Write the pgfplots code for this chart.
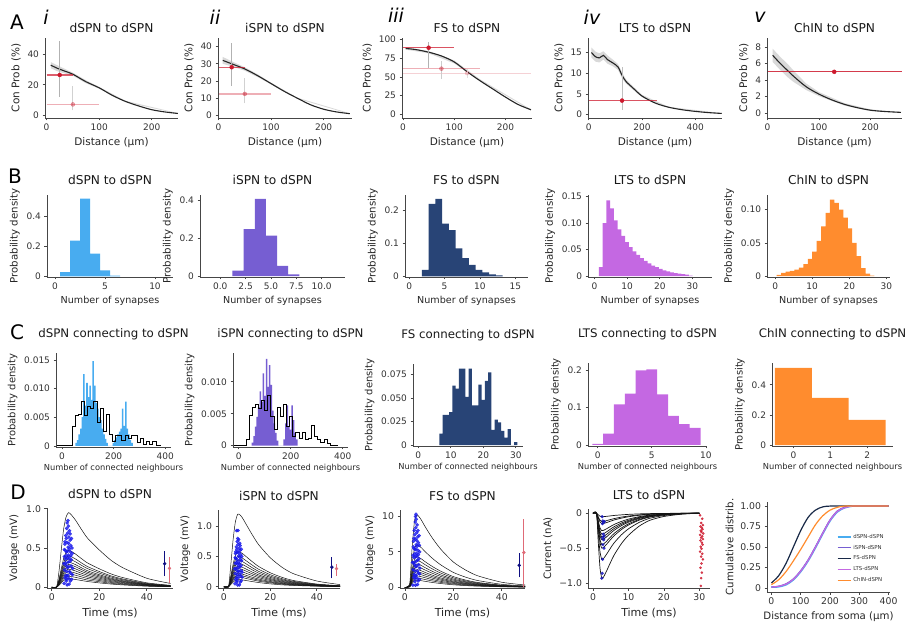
\documentclass[border=0pt]{standalone}
\usepackage{fontspec}
\setmainfont{DejaVu Sans}
\usepackage{pgfplots}
\usepackage{pgfplotstable}
\pgfplotsset{compat=1.18}

\definecolor{cdspn}{RGB}{72,172,240}
\definecolor{cispn}{RGB}{118,94,210}
\definecolor{cfs}{RGB}{40,68,118}
\definecolor{clts}{RGB}{196,104,226}
\definecolor{cchin}{RGB}{255,140,46}
\definecolor{cred}{RGB}{205,25,45}
\definecolor{spine}{RGB}{70,70,70}
\definecolor{pspcol}{RGB}{20,20,20}
\definecolor{cblue}{RGB}{25,25,235}

\pgfplotsset{
  pan/.style={scale only axis, anchor=south west,
    axis lines=left, axis line style={-, line width=0.9pt, draw=spine},
    every outer x axis line/.append style={-}, every outer y axis line/.append style={-},
    tick align=outside, major tick length=2.5pt,
    tick style={draw=spine, line width=0.7pt},
    every tick label/.append style={font=\fontsize{9}{10}\selectfont, text=black!80},
    /pgf/number format/assume math mode=true, scaled ticks=false,
    every axis title shift=0pt,
    every axis title/.style={at={(0.5,1)}, anchor=base, font=\fontsize{12.2}{13}\selectfont, text=black!90},
    every axis x label/.append style={font=\fontsize{10.5}{11}\selectfont, text=black!85},
    every axis y label/.append style={font=\fontsize{10.5}{11}\selectfont, text=black!85}},
  rowA/.style={title style={yshift=5pt}},
  rowB/.style={title style={yshift=10.5pt}, xlabel style={font=\fontsize{9.6}{10}\selectfont}, ylabel style={font=\fontsize{10.2}{11}\selectfont}},
  rowC/.style={title style={font=\fontsize{11.8}{13}\selectfont},
    xlabel style={font=\fontsize{8.3}{9}\selectfont, yshift=3pt}, ylabel style={font=\fontsize{10}{11}\selectfont}},
  rowD/.style={title style={yshift=9.5pt}, every tick label/.append style={font=\fontsize{9.3}{10}\selectfont},
    xlabel style={font=\fontsize{11}{12}\selectfont}, ylabel style={font=\fontsize{10.2}{11}\selectfont}},
  stepbar/.style={const plot, draw=none},
  pspline/.style={pspcol, line width=0.5pt, smooth, tension=0.4},
  band/.style={draw=none, fill=black, fill opacity=0.15},
  curve/.style={black!85, line width=1.1pt, smooth},
  dot/.style={only marks, mark=*, mark size=2pt},
  scat/.style={only marks, mark=*, mark size=1.6pt, cblue, fill opacity=0.8, draw opacity=0.8},
}

% PSP traces, panel D
\pgfplotstableread{
t a b c d e f g h i j k l
0 0 0 0 0 0 0 0 0 0 0 0 0
2 0 0 0 0 0 0 0 0 0 0 0 0
3 .19 .094 .08 .072 .064 .058 .052 .046 .04 .034 .028 .022
4 .475 .235 .2 .18 .16 .145 .13 .115 .1 .085 .07 .055
5 .741 .367 .312 .281 .25 .226 .203 .179 .156 .133 .109 .086
6 .893 .442 .376 .338 .301 .273 .244 .216 .188 .16 .132 .103
7 .95 .47 .4 .36 .32 .29 .26 .23 .2 .17 .14 .11
8 .931 .461 .392 .353 .314 .284 .255 .225 .196 .167 .137 .108
10 .855 .423 .36 .324 .288 .261 .234 .207 .18 .153 .126 .099
12 .76 .376 .32 .288 .256 .232 .208 .184 .16 .136 .112 .088
15 .627 .31 .264 .238 .211 .191 .172 .152 .132 .112 .092 .073
20 .475 .235 .2 .18 .16 .145 .13 .115 .1 .085 .07 .055
25 .342 .169 .144 .13 .115 .104 .094 .083 .072 .061 .05 .04
30 .247 .122 .104 .094 .083 .075 .068 .06 .052 .044 .036 .029
40 .114 .056 .048 .043 .038 .035 .031 .028 .024 .02 .017 .013
50 .048 .024 .02 .018 .016 .015 .013 .012 .01 .009 .007 .006
}\dAtab
\pgfplotstableread{
t a b c d e f g h i j k l
0 0 0 0 0 0 0 0 0 0 0 0 0
2 0 0 0 0 0 0 0 0 0 0 0 0
3 .36 .174 .15 .132 .117 .102 .09 .078 .066 .057 .048 .036
4 .78 .377 .325 .286 .254 .221 .195 .169 .143 .124 .104 .078
5 1.08 .522 .45 .396 .351 .306 .27 .234 .198 .171 .144 .108
6 1.2 .58 .5 .44 .39 .34 .3 .26 .22 .19 .16 .12
7 1.188 .574 .495 .436 .386 .337 .297 .257 .218 .188 .158 .119
8 1.14 .551 .475 .418 .371 .323 .285 .247 .209 .181 .152 .114
10 1.008 .487 .42 .37 .328 .286 .252 .218 .185 .16 .134 .101
12 .876 .423 .365 .321 .285 .248 .219 .19 .161 .139 .117 .088
15 .696 .336 .29 .255 .226 .197 .174 .151 .128 .11 .093 .07
20 .48 .232 .2 .176 .156 .136 .12 .104 .088 .076 .064 .048
25 .324 .157 .135 .119 .105 .092 .081 .07 .059 .051 .043 .032
30 .216 .104 .09 .079 .07 .061 .054 .047 .04 .034 .029 .022
40 .096 .046 .04 .035 .031 .027 .024 .021 .018 .015 .013 .01
50 .036 .017 .015 .013 .012 .01 .009 .008 .007 .006 .005 .004
}\dBtab
\pgfplotstableread{
t a b c d e f g h i j k l
0 0 0 0 0 0 0 0 0 0 0 0 0
2 .51 .3 .22 .19 .17 .15 .13 .11 .1 .08 .07 .05
3 5.61 3.3 2.37 2.09 1.82 1.6 1.38 1.21 1.05 .88 .72 .55
4 9.38 5.52 3.96 3.5 3.04 2.67 2.3 2.02 1.75 1.47 1.2 .92
5 10.2 6 4.3 3.8 3.3 2.9 2.5 2.2 1.9 1.6 1.3 1
6 9.89 5.82 4.17 3.69 3.2 2.81 2.43 2.13 1.84 1.55 1.26 .97
7 9.38 5.52 3.96 3.5 3.04 2.67 2.3 2.02 1.75 1.47 1.2 .92
8 8.77 5.16 3.7 3.27 2.84 2.49 2.15 1.89 1.63 1.38 1.12 .86
10 7.65 4.5 3.23 2.85 2.48 2.18 1.88 1.65 1.43 1.2 .98 .75
12 6.63 3.9 2.8 2.47 2.15 1.89 1.63 1.43 1.24 1.04 .85 .65
15 5.3 3.12 2.24 1.98 1.72 1.51 1.3 1.14 .99 .83 .68 .52
20 3.57 2.1 1.51 1.33 1.16 1.02 .88 .77 .67 .56 .46 .35
25 2.45 1.44 1.03 .91 .79 .7 .6 .53 .46 .38 .31 .24
30 1.63 .96 .69 .61 .53 .46 .4 .35 .3 .26 .21 .16
40 .71 .42 .3 .27 .23 .2 .18 .15 .13 .11 .09 .07
50 .31 .18 .13 .11 .1 .09 .08 .07 .06 .05 .04 .03
}\dCtab
\pgfplotstableread{
t a b c d e f g h i j k
0 0 0 0 0 0 0 0 0 0 0 0
1 0 0 0 0 0 0 0 0 0 0 0
1.5 -.419 -.297 -.225 -.203 -.171 -.153 -.135 -.113 -.068 -.054 -.023
2 -.791 -.561 -.425 -.383 -.323 -.289 -.255 -.213 -.128 -.102 -.043
2.5 -.93 -.66 -.5 -.45 -.38 -.34 -.3 -.25 -.15 -.12 -.05
3 -.911 -.647 -.49 -.441 -.372 -.333 -.294 -.245 -.147 -.118 -.049
4 -.809 -.574 -.435 -.392 -.331 -.296 -.261 -.218 -.131 -.104 -.044
5 -.698 -.495 -.375 -.338 -.285 -.255 -.225 -.188 -.113 -.09 -.038
6 -.595 -.422 -.32 -.288 -.243 -.218 -.192 -.16 -.096 -.077 -.032
8 -.437 -.31 -.235 -.212 -.179 -.16 -.141 -.118 -.071 -.056 -.024
10 -.316 -.224 -.17 -.153 -.129 -.116 -.102 -.085 -.051 -.041 -.017
13 -.186 -.132 -.1 -.09 -.076 -.068 -.06 -.05 -.03 -.024 -.01
16 -.102 -.073 -.055 -.05 -.042 -.037 -.033 -.028 -.017 -.013 -.006
20 -.047 -.033 -.025 -.023 -.019 -.017 -.015 -.013 -.008 -.006 -.003
25 -.014 -.01 -.008 -.007 -.006 -.005 -.005 -.004 -.002 -.002 -.001
30 0 0 0 0 0 0 0 0 0 0 0
}\dDtab

\begin{document}
\begin{tikzpicture}
\path[use as bounding box] (0pt,0pt) rectangle (917pt,623pt);

%%%%%%%%%%%%%%%% row A
\begin{axis}[pan, rowA, at={(45pt,505pt)}, width=133pt, height=80pt,
  xmin=-3, xmax=250, ymin=-2, ymax=51, xtick={0,100,200}, ytick={0,20,40},
  title={dSPN to dSPN}, xlabel={Distance (μm)}, ylabel={Con Prob (\%)}]
\addplot[band] coordinates {(8,35)(20,33)(35,30.5)(50,28)(75,23)(100,18.6)(150,9.4)(250,1.2)(250,0.8)(150,8.6)(100,17.4)(75,21)(50,26)(35,27.5)(20,29)(8,31)};
\addplot[curve] coordinates {(8,33)(20,31)(35,29)(50,27)(75,22)(100,18)(125,13)(150,9)(175,6)(200,3.5)(225,2)(250,1)};
\addplot[black!30, line width=0.8pt] coordinates {(25,12)(25,49)};
\addplot[cred, opacity=0.7, line width=1.3pt] coordinates {(0,26.5)(50,26.5)};
\addplot[dot, cred] coordinates {(25,26.5)};
\addplot[black!18, line width=0.8pt] coordinates {(50,3)(50,19)};
\addplot[cred, opacity=0.35, line width=1.3pt] coordinates {(0,7)(100,7)};
\addplot[dot, cred, opacity=0.4] coordinates {(50,7)};
\end{axis}

\begin{axis}[pan, rowA, at={(218pt,505pt)}, width=134pt, height=80pt,
  xmin=-1, xmax=254, ymin=-1.5, ymax=45, xtick={0,100,200}, ytick={0,10,20,30,40},
  title={iSPN to dSPN}, xlabel={Distance (μm)}, ylabel={Con Prob (\%)}]
\addplot[band] coordinates {(8,34)(25,31.5)(50,28)(75,23.8)(100,19)(150,10.3)(250,1.2)(250,0.8)(150,9.7)(100,18)(75,22.2)(50,26)(25,28.5)(8,30)};
\addplot[curve] coordinates {(8,32)(25,30)(50,27)(75,23)(100,18.5)(125,14)(150,10)(175,6.2)(200,3.6)(225,2)(250,1)};
\addplot[black!30, line width=0.8pt] coordinates {(25,17)(25,42)};
\addplot[cred, opacity=0.7, line width=1.3pt] coordinates {(0,28)(50,28)};
\addplot[dot, cred] coordinates {(25,28)};
\addplot[black!18, line width=0.8pt] coordinates {(50,7)(50,22)};
\addplot[cred, opacity=0.35, line width=1.3pt] coordinates {(0,12.5)(100,12.5)};
\addplot[dot, cred, opacity=0.4] coordinates {(50,12.5)};
\end{axis}

\begin{axis}[pan, rowA, at={(402pt,505pt)}, width=130pt, height=80pt,
  xmin=-2, xmax=252, ymin=-5, ymax=102, xtick={0,100,200}, ytick={0,25,50,75,100},
  title={FS to dSPN}, xlabel={Distance (μm)}, ylabel={Con Prob (\%)}]
\addplot[band] coordinates {(5,89.5)(50,84.5)(100,72)(150,47)(250,6.5)(250,5.5)(150,45)(100,68)(50,81.5)(5,86.5)};
\addplot[curve] coordinates {(5,88)(25,86.5)(50,83)(75,78)(100,70)(125,57)(150,45)(175,34)(200,23)(225,13)(250,6)};
\addplot[cred, opacity=0.2, line width=1.1pt] coordinates {(0,55)(250,55)};
\addplot[black!12, line width=0.8pt] coordinates {(125,49)(125,60)};
\addplot[dot, cred, opacity=0.2] coordinates {(125,55)};
\addplot[black!20, line width=0.8pt] coordinates {(75,47)(75,71)};
\addplot[cred, opacity=0.35, line width=1.3pt] coordinates {(0,61)(150,61)};
\addplot[dot, cred, opacity=0.4] coordinates {(75,61)};
\addplot[black!30, line width=0.8pt] coordinates {(50,62)(50,97)};
\addplot[cred, opacity=0.75, line width=1.4pt] coordinates {(0,89)(100,89)};
\addplot[dot, cred] coordinates {(50,89)};
\end{axis}

\begin{axis}[pan, rowA, at={(588pt,505pt)}, width=134pt, height=80pt,
  xmin=-3, xmax=501, ymin=-0.8, ymax=18.5, xtick={0,200,400}, ytick={0,5,10,15},
  title={LTS to dSPN}, xlabel={Distance (μm)}, ylabel={Con Prob (\%)}]
\addplot[band] coordinates {(10,16.2)(25,15.2)(40,14.8)(55,15.3)(70,14.3)(90,13.3)(110,12.2)(125,10.2)(140,8.5)(165,6.9)(200,4.8)(300,1.9)(500,0.35)(500,0.25)(300,1.7)(200,4.2)(165,6.1)(140,7.5)(125,8.8)(110,10.8)(90,11.7)(70,12.3)(55,13.3)(40,12.6)(25,12.8)(10,13.8)};
\addplot[curve, smooth=false] coordinates {(10,15)(25,14)(40,13.7)(55,14.3)(70,13.3)(90,12.5)(110,11.5)(125,9.5)(140,8)(165,6.5)(200,4.5)(250,2.8)(300,1.8)(350,1.2)(400,0.8)(450,0.5)(500,0.3)};
\addplot[black!25, line width=0.8pt] coordinates {(125,1.2)(125,11.5)};
\addplot[cred, opacity=0.75, line width=1.4pt] coordinates {(0,3.4)(255,3.4)};
\addplot[dot, cred] coordinates {(125,3.4)};
\end{axis}

\begin{axis}[pan, rowA, at={(767pt,505pt)}, width=135pt, height=80pt,
  xmin=-1, xmax=262, ymin=-0.6, ymax=9.1, xtick={0,100,200}, ytick={0,2,4,6,8},
  title={ChIN to dSPN}, xlabel={Distance (μm)}, ylabel={Con Prob (\%)}]
\addplot[band] coordinates {(10,7.8)(25,6.8)(40,5.9)(50,5.2)(75,3.6)(100,2.55)(150,1.2)(200,0.45)(260,0.12)(260,0.04)(200,0.25)(150,0.9)(100,2.05)(75,2.8)(50,3.8)(40,4.3)(25,5.2)(10,6.2)};
\addplot[curve] coordinates {(10,7)(25,6)(40,5.1)(50,4.5)(75,3.2)(100,2.3)(125,1.6)(150,1.05)(175,0.65)(200,0.35)(225,0.2)(260,0.08)};
\addplot[cred, opacity=0.85, line width=1.3pt] coordinates {(0,5)(262,5)};
\addplot[dot, cred] coordinates {(130,5)};
\end{axis}

%%%%%%%%%%%%%%%% row B
\begin{axis}[pan, rowB, at={(47pt,346pt)}, width=126pt, height=82pt,
  xmin=-0.8, xmax=11.8, ymin=-0.004, ymax=0.545, xtick={0,5,10}, ytick={0,0.2,0.4}, yticklabels={0,0.2,0.4},
  title={dSPN to dSPN}, xlabel={Number of synapses}, ylabel={Probability density}]
\addplot[stepbar, fill=cdspn] coordinates {(0.5,0)(0.5,0.029)(1.5,0.24)(2.5,0.52)(3.5,0.153)(4.5,0.04)(5.5,0.005)(6.5,0)};
\end{axis}

\begin{axis}[pan, rowB, at={(200pt,346pt)}, width=145pt, height=82pt,
  xmin=-2, xmax=12.3, ymin=-0.004, ymax=0.43, xtick={0,2.5,5,7.5,10}, xticklabels={0.0,2.5,5.0,7.5,10.0},
  ytick={0,0.2,0.4}, yticklabels={0,0.2,0.4},
  title={iSPN to dSPN}, xlabel={Number of synapses}, ylabel={Probability density}]
\addplot[stepbar, fill=cispn] coordinates {(1.2,0)(1.2,0.03)(2.3,0.25)(3.4,0.41)(4.5,0.215)(5.6,0.055)(6.7,0.01)(7.8,0)};
\end{axis}

\begin{axis}[pan, rowB, at={(405pt,346pt)}, width=123pt, height=82pt,
  xmin=-0.6, xmax=16.8, ymin=-0.002, ymax=0.247, xtick={0,5,10,15}, ytick={0,0.1,0.2}, yticklabels={0,0.1,0.2},
  title={FS to dSPN}, xlabel={Number of synapses}, ylabel={Probability density}]
\addplot[stepbar, fill=cfs] coordinates {(1.8,0)(1.8,0.02)(2.75,0.22)(3.7,0.235)(4.65,0.16)(5.6,0.14)(6.55,0.085)(7.5,0.055)(8.45,0.035)(9.4,0.02)(10.35,0.012)(11.3,0.006)(12.25,0.003)(13.2,0)};
\end{axis}

\begin{axis}[pan, rowB, at={(588pt,346pt)}, width=124pt, height=82pt,
  xmin=-2, xmax=36, ymin=-0.0015, ymax=0.153, xtick={0,10,20,30}, ytick={0,0.05,0.10,0.15}, yticklabels={0,0.05,0.10,0.15},
  title={LTS to dSPN}, xlabel={Number of synapses}, ylabel={Probability density}]
\addplot[stepbar, fill=clts] coordinates {(1.3,0)(1.3,0.017)(2.45,0.1)(3.6,0.143)(4.75,0.128)(5.9,0.105)(7.05,0.088)(8.2,0.076)(9.35,0.064)(10.5,0.055)(11.65,0.047)(12.8,0.04)(13.95,0.034)(15.1,0.029)(16.25,0.024)(17.4,0.02)(18.55,0.017)(19.7,0.014)(20.85,0.011)(22,0.009)(23.15,0.007)(24.3,0.006)(25.45,0.005)(26.6,0.004)(27.75,0.003)(28.9,0.001)(30.05,0)};
\end{axis}

\begin{axis}[pan, rowB, at={(767pt,346pt)}, width=123pt, height=82pt,
  xmin=-2.2, xmax=31, ymin=-0.0012, ymax=0.122, xtick={0,10,20,30}, ytick={0,0.05,0.10}, yticklabels={0,0.05,0.10},
  title={ChIN to dSPN}, xlabel={Number of synapses}, ylabel={Probability density}]
\addplot[stepbar, fill=cchin] coordinates {(0.4,0)(0.4,0.002)(1.6,0.005)(2.8,0.007)(4.0,0.008)(5.2,0.01)(6.4,0.013)(7.6,0.018)(8.8,0.026)(10.0,0.037)(11.2,0.053)(12.4,0.075)(13.6,0.095)(14.8,0.115)(16.0,0.11)(17.2,0.1)(18.4,0.088)(19.6,0.072)(20.8,0.05)(22.0,0.03)(23.2,0.012)(24.4,0.004)(25.6,0.001)(26.8,0)};
\end{axis}

%%%%%%%%%%%%%%%% row C
\begin{axis}[pan, rowC, at={(56pt,176pt)}, width=115pt, height=94pt,
  xmin=-23, xmax=422, ymin=-0.0002, ymax=0.0162, xtick={0,200,400},
  ytick={0,0.005,0.010,0.015}, yticklabels={0,0.005,0.010,0.015},
  title style={yshift=15.5pt},
  title={dSPN connecting to dSPN}, xlabel={Number of connected neighbours}, ylabel={Probability density}]
\addplot[stepbar, fill=cdspn] coordinates {(52,0)(52,0.0005)(58,0.001)(64,0.002)(70,0.003)(76,0.005)(82,0.0125)(88,0.007)(94,0.011)(100,0.0085)(106,0.0105)(112,0.008)(118,0.0148)(124,0.0105)(130,0.0075)(136,0.0065)(142,0.005)(148,0.0045)(154,0.003)(160,0.002)(166,0.0012)(172,0.0005)(178,0)(196,0.0005)(202,0.001)(208,0.0015)(214,0.002)(220,0.0025)(226,0.003)(232,0.0065)(238,0.0035)(244,0.0077)(250,0.003)(256,0.002)(262,0.001)(268,0.0005)(274,0)};
\addplot[const plot, black, line width=1pt] coordinates {(-20,0)(40,0.0033)(52,0.0053)(64,0.0055)(76,0.0078)(88,0.0053)(100,0.0068)(112,0.0065)(124,0.0078)(136,0.004)(148,0.0065)(160,0.0025)(172,0.0055)(184,0.002)(196,0.0008)(208,0.0018)(220,0.0018)(232,0.001)(244,0.0018)(256,0.0012)(268,0.0018)(280,0.0018)(292,0.0005)(304,0.0012)(316,0.0003)(328,0.0008)(340,0.0003)(352,0.0008)(364,0)(385,0)};
\end{axis}

\begin{axis}[pan, rowC, at={(233pt,176pt)}, width=115pt, height=94pt,
  xmin=-22, xmax=420, ymin=-0.0002, ymax=0.0145, xtick={0,200,400},
  ytick={0,0.005,0.010}, yticklabels={0,0.005,0.010},
  title style={yshift=15.5pt},
  title={iSPN connecting to dSPN}, xlabel={Number of connected neighbours}, ylabel={Probability density}]
\addplot[stepbar, fill=cispn] coordinates {(50,0)(50,0.0005)(56,0.0015)(62,0.003)(68,0.0045)(74,0.006)(80,0.0085)(86,0.0068)(92,0.0113)(98,0.0078)(104,0.0136)(110,0.0092)(116,0.0126)(122,0.0095)(128,0.0055)(134,0.0035)(140,0.002)(146,0.0008)(152,0)(172,0.001)(178,0.0035)(184,0.0063)(190,0.003)(196,0.0025)(202,0.0063)(208,0.004)(214,0.002)(220,0.001)(226,0)};
\addplot[const plot, black, line width=1pt] coordinates {(-18,0)(28,0.001)(40,0.0048)(52,0.006)(64,0.0065)(76,0.0058)(88,0.007)(100,0.0055)(112,0.0078)(124,0.0045)(136,0.0025)(148,0.006)(160,0.0045)(172,0.0065)(184,0.003)(196,0.0045)(208,0.0015)(220,0.002)(232,0.0012)(244,0.002)(256,0.001)(268,0.0012)(280,0.0032)(292,0.0015)(304,0.001)(316,0.0005)(328,0.0009)(340,0.0004)(352,0)(380,0)};
\end{axis}

\begin{axis}[pan, rowC, at={(413pt,177pt)}, width=110pt, height=82pt,
  xmin=-1.6, xmax=32.2, ymin=-0.001, ymax=0.086, xtick={0,10,20,30},
  ytick={0,0.025,0.050,0.075}, yticklabels={0,0.025,0.050,0.075},
  title style={yshift=25.5pt},
  title={FS connecting to dSPN}, xlabel={Number of connected neighbours}, ylabel={Probability density}]
\addplot[stepbar, fill=cfs] coordinates {(6.5,0)(6.5,0.012)(7.5,0.032)(8.5,0.032)(9.5,0.035)(10.5,0.063)(11.5,0.06)(12.5,0.081)(13.5,0.081)(14.5,0.051)(15.5,0.081)(16.5,0.042)(17.5,0.042)(18.5,0.064)(19.5,0.048)(20.5,0.068)(21.5,0.077)(22.5,0.016)(23.5,0.027)(24.5,0.024)(25.5,0.015)(26.5,0.008)(27.5,0.017)(28.5,0)(29.5,0.003)(30.5,0)};
\end{axis}

\begin{axis}[pan, rowC, at={(588pt,177pt)}, width=119pt, height=83pt,
  xmin=-0.9, xmax=10.1, ymin=-0.003, ymax=0.22, xtick={0,5,10},
  ytick={0,0.1,0.2}, yticklabels={0,0.1,0.2},
  title style={yshift=25.5pt},
  title={LTS connecting to dSPN}, xlabel={Number of connected neighbours}, ylabel={Probability density}]
\addplot[stepbar, fill=clts] coordinates {(-0.5,0)(-0.5,0.003)(0.5,0.03)(1.5,0.109)(2.5,0.138)(3.5,0.2)(4.5,0.203)(5.5,0.136)(6.5,0.078)(7.5,0.056)(8.5,0.046)(9.5,0)};
\end{axis}

\begin{axis}[pan, rowC, at={(772pt,177pt)}, width=121pt, height=83pt,
  xmin=-0.58, xmax=2.7, ymin=-0.006, ymax=0.545, xtick={0,1,2},
  ytick={0,0.2,0.4}, yticklabels={0,0.2,0.4},
  title style={yshift=25.5pt},
  title={ChIN connecting to dSPN}, xlabel={Number of connected neighbours}, ylabel={Probability density}]
\addplot[stepbar, fill=cchin] coordinates {(-0.5,0)(-0.5,0.513)(0.5,0.313)(1.5,0.168)(2.5,0)};
\end{axis}

%%%%%%%%%%%%%%%% row D
\begin{axis}[pan, rowD, at={(47pt,35pt)}, width=126pt, height=80pt,
  xmin=-2, xmax=51, ymin=-0.01, ymax=1.01, xtick={0,20,40},
  ytick={0,0.5,1}, yticklabels={0,0.5,1.0},
  title={dSPN to dSPN}, xlabel={Time (ms)}, ylabel={Voltage (mV)}]
\pgfplotsinvokeforeach{a,b,c,d,e,f,g,h,i,j,k,l}{\addplot[pspline] table[x=t,y=#1]{\dAtab};}
\addplot[scat] coordinates {(5.2,0.05)(6.1,0.08)(7.3,0.04)(8.4,0.1)(5.6,0.12)(6.8,0.15)(7.9,0.18)(6.3,0.2)(5.4,0.22)(8.8,0.24)(7.1,0.26)(6.0,0.28)(5.8,0.31)(7.6,0.33)(8.2,0.35)(6.6,0.37)(5.3,0.39)(7.0,0.41)(8.6,0.43)(6.2,0.45)(5.7,0.47)(7.4,0.49)(6.9,0.51)(8.0,0.53)(5.5,0.55)(6.4,0.57)(7.7,0.6)(6.1,0.62)(7.2,0.64)(5.9,0.66)(6.7,0.69)(7.5,0.72)(6.3,0.75)(7.0,0.78)(6.5,0.82)(6.8,0.85)(5.9,0.15)(7.8,0.08)(6.5,0.03)(8.1,0.27)(5.1,0.3)(7.3,0.37)(8.5,0.5)(6.0,0.4)(7.9,0.45)(5.6,0.58)(8.3,0.62)(6.6,0.25)(7.5,0.2)(6.2,0.1)(8.7,0.16)(5.3,0.48)(7.1,0.56)(6.9,0.32)(7.7,0.68)(6.4,0.14)(7.2,0.11)(5.8,0.36)(8.0,0.4)(6.7,0.46)};
\addplot[cblue!55!black, line width=0.8pt] coordinates {(47.5,0.14)(47.5,0.46)};
\addplot[dot, mark size=1.5pt, cblue!55!black] coordinates {(47.5,0.3)};
\addplot[cred!65, line width=0.8pt] coordinates {(49.5,0.06)(49.5,0.38)};
\addplot[dot, mark size=1.5pt, cred!65] coordinates {(49.5,0.24)};
\end{axis}

\begin{axis}[pan, rowD, at={(218pt,35pt)}, width=122pt, height=78pt,
  xmin=-2.5, xmax=50, ymin=-0.02, ymax=1.27, xtick={0,20,40},
  ytick={0,0.5,1}, yticklabels={0,0.5,1.0},
  title={iSPN to dSPN}, xlabel={Time (ms)}, ylabel={Voltage (mV)}]
\pgfplotsinvokeforeach{a,b,c,d,e,f,g,h,i,j,k,l}{\addplot[pspline] table[x=t,y=#1]{\dBtab};}
\addplot[scat] coordinates {(4.8,0.05)(5.6,0.08)(6.7,0.03)(7.5,0.1)(5.1,0.12)(6.2,0.15)(7.2,0.18)(5.8,0.2)(4.9,0.22)(7.8,0.24)(6.5,0.26)(5.5,0.28)(5.3,0.31)(6.9,0.33)(7.4,0.35)(6.0,0.37)(4.9,0.39)(6.4,0.41)(7.6,0.43)(5.7,0.45)(5.2,0.47)(6.8,0.49)(6.3,0.51)(7.3,0.53)(5.0,0.55)(5.9,0.57)(7.0,0.6)(5.6,0.62)(6.6,0.64)(5.4,0.66)(6.1,0.7)(6.9,0.72)(5.8,0.75)(6.4,0.78)(6.0,0.8)(5.5,0.93)(6.1,0.93)(5.4,0.15)(7.1,0.08)(6.0,0.03)(7.4,0.27)(4.7,0.3)(6.7,0.38)(7.7,0.5)(5.5,0.4)(7.2,0.45)(5.1,0.58)(7.5,0.62)(6.1,0.25)(6.9,0.2)(5.7,0.1)(7.9,0.16)(4.9,0.48)(6.5,0.56)(6.3,0.32)(7.0,0.68)};
\addplot[cblue!55!black, line width=0.8pt] coordinates {(46.5,0.14)(46.5,0.5)};
\addplot[dot, mark size=1.5pt, cblue!55!black] coordinates {(46.5,0.325)};
\addplot[cred!65, line width=0.8pt] coordinates {(48.5,0.18)(48.5,0.38)};
\addplot[dot, mark size=1.5pt, cred!65] coordinates {(48.5,0.3)};
\end{axis}

\begin{axis}[pan, rowD, at={(400pt,35pt)}, width=125pt, height=78pt,
  xmin=-2, xmax=49.6, ymin=-0.1, ymax=10.9, xtick={0,20,40}, ytick={0,5,10},
  title={FS to dSPN}, xlabel={Time (ms)}, ylabel={Voltage (mV)}]
\pgfplotsinvokeforeach{a,b,c,d,e,f,g,h,i,j,k,l}{\addplot[pspline] table[x=t,y=#1]{\dCtab};}
\addplot[scat] coordinates {(3.3,0.3)(4.1,0.8)(5.2,0.4)(6.0,1.1)(3.6,1.4)(4.6,1.7)(5.6,2.0)(4.2,2.3)(3.4,2.5)(6.2,2.7)(4.9,3.0)(4.0,3.2)(3.9,3.5)(5.3,3.8)(5.8,4.0)(4.5,4.3)(3.4,4.5)(4.8,4.8)(6.1,5.0)(4.2,5.3)(3.8,5.5)(5.1,5.8)(4.7,6.0)(5.6,6.3)(3.6,6.5)(4.3,6.8)(5.3,7.1)(4.1,7.4)(4.9,7.7)(3.9,8.0)(4.5,8.4)(5.1,8.8)(4.3,9.2)(4.7,9.6)(4.4,10.0)(4.6,10.3)(3.9,1.8)(5.5,0.9)(4.4,0.3)(5.7,3.2)(3.2,3.5)(5.0,4.4)(6.0,5.9)(4.0,4.7)(5.5,5.2)(3.7,6.9)(5.9,7.3)(4.5,2.9)(5.2,2.3)(4.2,1.2)(6.1,1.9)(3.5,5.7)(4.9,6.6)(4.7,3.7)(5.4,8.0)(4.4,1.6)(5.0,1.3)(3.8,4.2)(5.6,4.6)(4.6,5.4)};
\addplot[cblue!55!black, line width=0.8pt] coordinates {(47.2,1.4)(47.2,4.9)};
\addplot[dot, mark size=1.5pt, cblue!55!black] coordinates {(47.2,3.1)};
\addplot[cred!65, line width=0.8pt] coordinates {(49.1,0)(49.1,9.6)};
\addplot[dot, mark size=1.5pt, cred!65] coordinates {(49.1,4.9)};
\end{axis}

\begin{axis}[pan, rowD, at={(588pt,35pt)}, width=122pt, height=79pt,
  xmin=-1.4, xmax=33, ymin=-1.07, ymax=0.06, xtick={0,10,20,30},
  ytick={-1,-0.5,0}, yticklabels={−1.0,−0.5,0},
  title={LTS to dSPN}, xlabel={Time (ms)}, ylabel={Current (nA)}]
\pgfplotsinvokeforeach{a,b,c,d,e,f,g,h,i,j,k}{\addplot[pspline, line width=0.7pt] table[x=t,y=#1]{\dDtab};}
\addplot[scat, mark size=1.4pt, cblue!80!black] coordinates {(2.6,-0.05)(2.8,-0.11)(3.0,-0.13)(2.7,-0.15)(3.2,-0.12)(2.9,-0.3)(3.1,-0.33)(2.7,-0.35)(3.0,-0.38)(2.8,-0.45)(3.1,-0.5)(2.7,-0.66)(2.6,-0.86)(2.5,-0.93)};
\addplot[scat, mark size=1.1pt, cred] coordinates {(30.2,-0.03)(30.8,-0.08)(30.5,-0.14)(31.0,-0.17)(30.3,-0.19)(30.7,-0.21)(30.9,-0.23)(30.4,-0.25)(30.6,-0.27)(31.1,-0.29)(30.2,-0.31)(30.8,-0.33)(30.5,-0.35)(31.0,-0.37)(30.3,-0.39)(30.7,-0.42)(30.9,-0.45)(30.4,-0.48)(30.6,-0.51)(30.2,-0.55)(30.8,-0.58)(30.5,-0.62)(31.0,-0.66)(30.6,-0.72)(30.3,-0.78)(30.7,-0.85)(30.5,-0.93)(30.4,-1.04)};
\end{axis}

\begin{axis}[pan, rowD, at={(767pt,31pt)}, width=123pt, height=90pt,
  xmin=-15, xmax=405, ymin=-0.05, ymax=1.05, xtick={0,100,200,300,400},
  ytick={0,0.25,0.5,0.75,1}, yticklabels={0,0.25,0.50,0.75,1.00},
  xlabel={Distance from soma (μm)}, ylabel={Cumulative distrib.},
  xlabel style={font=\fontsize{10.2}{11}\selectfont},
  legend style={draw=none, fill=none, font=\fontsize{5.4}{6}\selectfont, text=black!80,
    at={(0.99,0.05)}, anchor=south east, row sep=1.3pt},
  legend cell align=left,
  legend image code/.code={\draw[#1, line width=1.4pt] (0pt,0pt) -- (13pt,0pt);}]
\addplot[cdspn, line width=1.8pt, smooth] coordinates {(0,0.01)(25,0.015)(50,0.04)(75,0.1)(100,0.2)(125,0.33)(150,0.49)(175,0.66)(200,0.82)(225,0.93)(250,0.98)(275,1)(300,1)(400,1)};
\addlegendentry{dSPN-dSPN}
\addplot[cispn, line width=1.2pt, smooth] coordinates {(0,0.01)(25,0.02)(50,0.05)(75,0.11)(100,0.21)(125,0.34)(150,0.5)(175,0.67)(200,0.83)(225,0.94)(250,0.985)(275,1)(300,1)(400,1)};
\addlegendentry{iSPN-dSPN}
\addplot[cfs!60!black, line width=1.2pt, smooth] coordinates {(0,0.06)(25,0.15)(50,0.3)(75,0.5)(100,0.7)(125,0.86)(150,0.95)(175,0.99)(200,1)(250,1)(400,1)};
\addlegendentry{FS-dSPN}
\addplot[clts, line width=1.2pt, smooth] coordinates {(0,0.01)(25,0.02)(50,0.045)(75,0.105)(100,0.205)(125,0.335)(150,0.495)(175,0.665)(200,0.825)(225,0.935)(250,0.98)(275,1)(300,1)(400,1)};
\addlegendentry{LTS-dSPN}
\addplot[cchin, line width=1.2pt, smooth] coordinates {(0,0.04)(25,0.1)(50,0.2)(75,0.33)(100,0.47)(125,0.62)(150,0.77)(175,0.88)(200,0.95)(225,0.985)(250,1)(300,1)(400,1)};
\addlegendentry{ChIN-dSPN}
\end{axis}

%%%%%%%%%%%%%%%% panel letters
\node[font=\fontsize{20}{20}\selectfont] at (17pt,601pt) {A};
\node[font=\fontsize{20}{20}\selectfont] at (15pt,447pt) {B};
\node[font=\fontsize{20}{20}\selectfont] at (17pt,291pt) {C};
\node[font=\fontsize{20}{20}\selectfont] at (18pt,131pt) {D};
\node[font=\fontsize{19}{19}\selectfont\itshape] at (46pt,606pt) {i};
\node[font=\fontsize{19}{19}\selectfont\itshape] at (215pt,606pt) {ii};
\node[font=\fontsize{19}{19}\selectfont\itshape] at (396pt,608pt) {iii};
\node[font=\fontsize{19}{19}\selectfont\itshape] at (592pt,606pt) {iv};
\node[font=\fontsize{19}{19}\selectfont\itshape] at (760pt,606pt) {v};
\end{tikzpicture}
\end{document}
